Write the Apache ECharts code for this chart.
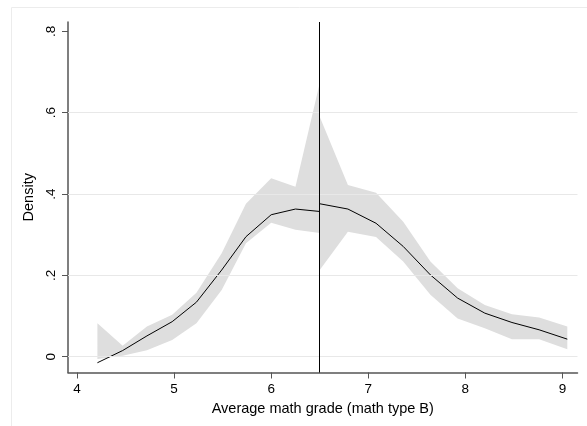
<!DOCTYPE html>
<html>
<head>
<meta charset="utf-8">
<script src="https://cdn.jsdelivr.net/npm/echarts@6/dist/echarts.min.js"></script>
<style>
  html, body { margin: 0; padding: 0; background: #fff; }
  #main { width: 587px; height: 426px; }
</style>
</head>
<body>
<div id="main"></div>
<script>
// left of cutoff
var leftX = [4.21, 4.47, 4.72, 4.98, 5.23, 5.49, 5.74, 6.00, 6.25, 6.50];
var leftY = [-0.015, 0.015, 0.051, 0.086, 0.134, 0.213, 0.295, 0.349, 0.363, 0.357];
var leftLow = [-0.006, 0.002, 0.016, 0.041, 0.082, 0.164, 0.279, 0.329, 0.312, 0.304];
var leftHigh = [0.082, 0.027, 0.074, 0.103, 0.157, 0.254, 0.376, 0.439, 0.418, 0.673];
// right of cutoff
var rightX = [6.50, 6.79, 7.08, 7.36, 7.64, 7.92, 8.20, 8.48, 8.76, 9.05];
var rightY = [0.376, 0.363, 0.328, 0.271, 0.201, 0.144, 0.107, 0.084, 0.066, 0.043];
var rightLow = [0.213, 0.307, 0.294, 0.234, 0.152, 0.094, 0.070, 0.043, 0.043, 0.018];
var rightHigh = [0.590, 0.422, 0.403, 0.332, 0.234, 0.168, 0.127, 0.104, 0.096, 0.074];

var cutoff = 6.5;
var xTicks = [4, 5, 6, 7, 8, 9];
var yTicks = [0, 0.2, 0.4, 0.6, 0.8];
var yGrid = [0, 0.2, 0.4, 0.6];

var font = 'Arial, "Liberation Sans", sans-serif';

function pairs(xs, ys) {
    return xs.map(function (x, i) { return [x, ys[i]]; });
}

// band polygon built from the arrays through the axis scales
function band(xs, lo, hi) {
    return {
        type: 'custom',
        silent: true,
        z: 1,
        data: [0],
        renderItem: function (params, api) {
            var pts = [];
            for (var i = 0; i < xs.length; i++) pts.push(api.coord([xs[i], hi[i]]));
            for (var j = xs.length - 1; j >= 0; j--) pts.push(api.coord([xs[j], lo[j]]));
            return {
                type: 'polygon',
                shape: { points: pts },
                style: { fill: '#dedede', stroke: null }
            };
        }
    };
}

function fitLine(xs, ys) {
    return {
        type: 'line',
        data: pairs(xs, ys),
        symbol: 'none',
        z: 3,
        lineStyle: { color: '#000', width: 1 }
    };
}

var main = echarts.init(document.getElementById('main'));
var option = {
    animation: false,
    backgroundColor: '#fff',
    graphic: [{
        type: 'rect',
        shape: { x: 11.5, y: 7.5, width: 700, height: 600 },
        style: { fill: null, stroke: '#ececec', lineWidth: 1 },
        silent: true,
        z: -1
    }],
    grid: {
        left: 68,
        top: 22,
        right: 9.5,
        bottom: 53.5
    },
    xAxis: {
        type: 'value',
        min: 3.907,
        max: 9.155,
        name: 'Average math grade (math type B)',
        nameLocation: 'middle',
        nameGap: 24,
        nameTextStyle: { color: '#000', fontSize: 14.5, fontFamily: font },
        axisLine: { show: true, onZero: false, lineStyle: { color: '#555', width: 1.5 } },
        axisTick: { show: true, length: 6, customValues: xTicks, lineStyle: { color: '#555' } },
        axisLabel: { customValues: xTicks, color: '#000', fontSize: 13.5, fontFamily: font, margin: 10 },
        splitLine: { show: false }
    },
    yAxis: {
        type: 'value',
        min: -0.039,
        max: 0.823,
        name: 'Density',
        nameLocation: 'middle',
        nameGap: 31,
        nameRotate: 90,
        nameTextStyle: { color: '#000', fontSize: 14.5, fontFamily: font },
        axisLine: { show: true, onZero: false, lineStyle: { color: '#555', width: 1.5 } },
        axisTick: { show: true, length: 6, customValues: yTicks, lineStyle: { color: '#555' } },
        axisLabel: {
            customValues: yTicks,
            rotate: 90,
            color: '#000',
            fontSize: 13.5,
            fontFamily: font,
            margin: 10,
            formatter: function (v) {
                if (Math.abs(v) < 1e-9) return '0';
                return String(Math.round(v * 10) / 10).replace(/^0/, '');
            }
        },
        splitLine: { show: false }
    },
    series: [
        {
            type: 'line',
            data: [],
            silent: true,
            markLine: {
                silent: true,
                symbol: 'none',
                label: { show: false },
                lineStyle: { color: '#e8e8e8', width: 1, type: 'solid' },
                data: yGrid.map(function (v) { return { yAxis: v }; })
            },
            z: 0
        },
        band(leftX, leftLow, leftHigh),
        band(rightX, rightLow, rightHigh),
        fitLine(leftX, leftY),
        fitLine(rightX, rightY),
        {
            type: 'line',
            data: [],
            z: 4,
            markLine: {
                silent: true,
                symbol: 'none',
                label: { show: false },
                lineStyle: { color: '#000', width: 1, type: 'solid' },
                data: [{ xAxis: cutoff }]
            }
        }
    ]
};
main.setOption(option);
</script>
</body>
</html>
